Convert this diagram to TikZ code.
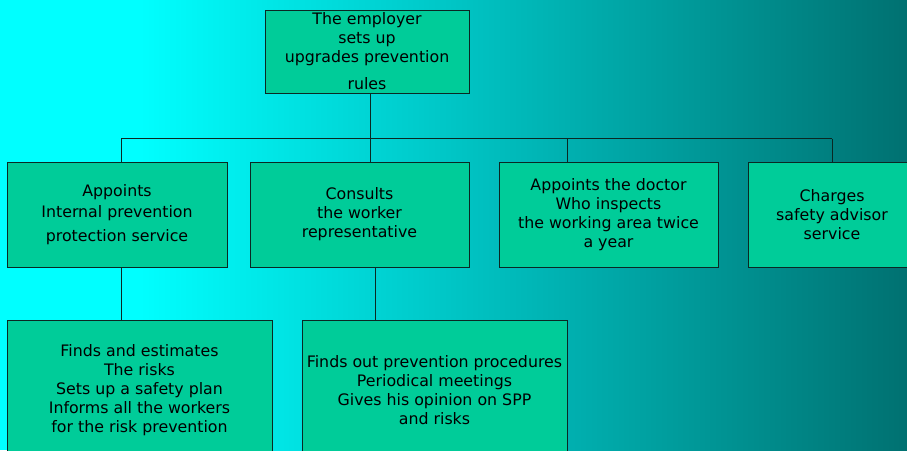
\documentclass[tikz,border=0pt]{standalone}
\usepackage{fontspec}
\setmainfont{DejaVu Sans}
\definecolor{boxgreen}{RGB}{0,204,153}
\definecolor{bgleft}{RGB}{0,255,255}
\definecolor{bgright}{RGB}{0,113,113}
\definecolor{edge}{RGB}{10,40,35}
\tikzset{
  orgbox/.style={draw=edge, fill=boxgreen, line width=1pt, inner sep=0pt, align=center,
    font=\fontsize{15.8}{19}\selectfont, text=black},
  link/.style={draw=edge, line width=1pt}
}
\begin{document}
\begin{tikzpicture}[x=1pt,y=-1pt]
\useasboundingbox (0,0) rectangle (907,450);
\clip (0,0) rectangle (907,450);
\fill[bgleft] (0,0) rectangle (141,450);
\shade[left color=bgleft, right color=bgright] (140,0) rectangle (907,450);
% junction coordinates
\coordinate (c1) at (121,138.5);
\coordinate (c2) at (370,138.5);
\coordinate (c3) at (567,138.5);
\coordinate (c4) at (832,138.5);
\coordinate (c5) at (375,300);
% boxes
\node[orgbox, minimum width=204pt, minimum height=83pt] (top) at (367,51.5)
  {The employer\\sets up\\upgrades prevention\\[8pt]rules};
\node[orgbox, minimum width=220pt, minimum height=105pt] (b1) at (117,214.5)
  {Appoints\\[2pt]Internal prevention\\[5pt]protection service};
\node[orgbox, minimum width=219pt, minimum height=105pt] (b2) at (359.5,214.5)
  {Consults\\the worker\\representative};
\node[orgbox, minimum width=219pt, minimum height=105pt] (b3) at (608.5,214.5)
  {Appoints the doctor\\Who inspects\\the working area twice\\a year};
\node[orgbox, minimum width=168pt, minimum height=105pt] (b4) at (832,214.5)
  {Charges\\safety advisor\\service};
\node[orgbox, minimum width=265pt, minimum height=140pt] (b5) at (139.5,390)
  {Finds and estimates\\The risks\\Sets up a safety plan\\Informs all the workers\\for the risk prevention};
\node[orgbox, minimum width=265pt, minimum height=140pt] (b6) at (434.5,390)
  {Finds out prevention procedures\\Periodical meetings\\Gives his opinion on SPP\\and risks};
% connectors
\draw[link] (c2 |- top.south) -- (c2);
\draw[link] (c1) -- (c4);
\draw[link] (c1) -- (c1 |- b1.north);
\draw[link] (c2) -- (c2 |- b2.north);
\draw[link] (c3) -- (c3 |- b3.north);
\draw[link] (c4) -- (c4 |- b4.north);
\draw[link] (c1 |- b1.south) -- (c1 |- b5.north);
\draw[link] (c5 |- b2.south) -- (c5 |- b6.north);
\end{tikzpicture}
\end{document}
